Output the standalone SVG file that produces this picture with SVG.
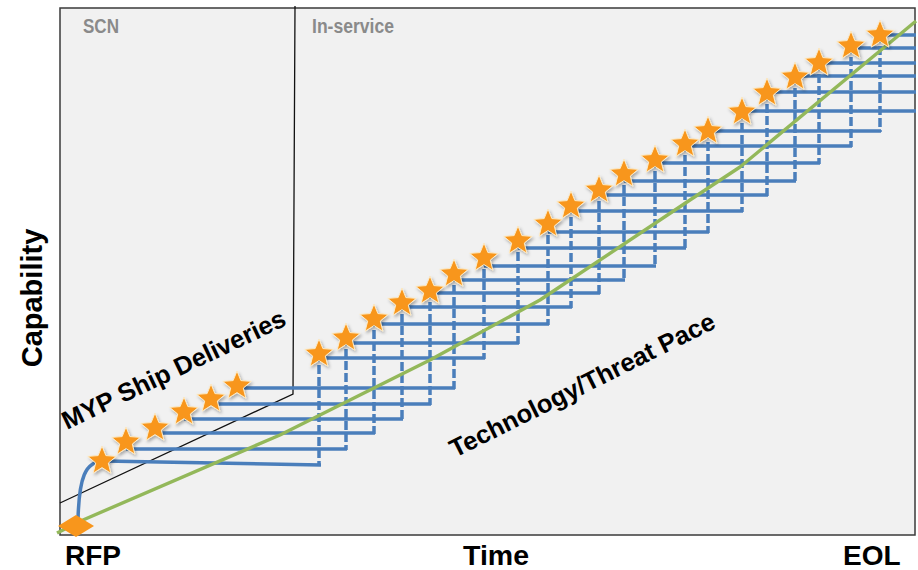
<svg xmlns="http://www.w3.org/2000/svg" width="918" height="570" viewBox="0 0 918 570">
<style>
.lbl{font-family:"Liberation Sans",Arial,sans-serif;font-weight:bold;fill:#000}
.reg{font-family:"Liberation Sans",Arial,sans-serif;font-weight:bold;fill:#8a8a8a;font-size:20px}
.h{fill:none;stroke:#4a7ebb;stroke-width:3.5}
.v{fill:none;stroke:#4a7ebb;stroke-width:3.5;stroke-dasharray:9 3}
.grn{fill:none;stroke:#93b85a;stroke-width:3.4;stroke-linejoin:round}
.div{fill:none;stroke:#111;stroke-width:1.3}
</style>
<defs>
<filter id="sh" x="-30%" y="-30%" width="170%" height="170%">
<feDropShadow dx="1.5" dy="2" stdDeviation="1.4" flood-color="#000" flood-opacity="0.3"/>
</filter>
<path id="st" d="M0,-15 L3.9,-5.4 L14.27,-4.64 L6.3,2.05 L8.82,12.14 L0,6.6 L-8.82,12.14 L-6.3,2.05 L-14.27,-4.64 L-3.9,-5.4 Z" fill="#f8961c" stroke="#fdebc6" stroke-width="1" filter="url(#sh)"/>
</defs>
<rect width="918" height="570" fill="#fff"/>
<g id="frame">
<rect x="60" y="8" width="855" height="527" fill="#f1f1f1" stroke="#3a3a3a" stroke-width="1.5"/>
</g>
<g id="scn-region">
<polyline class="div" points="295,6 293,394 60,503"/>
<text class="reg" x="83" y="33" textLength="36" lengthAdjust="spacingAndGlyphs">SCN</text>
<text class="reg" x="312" y="33" textLength="82" lengthAdjust="spacingAndGlyphs">In-service</text>
</g>
<g id="connectors">
<path class="h" d="M78,520 C79,478 85,461 104,461 L321,465"/>
<path class="h" d="M126,449H347M155,433H375M184,419H403M211,404H431M237,388H455M319,358H485M346,343H519M374,324H549M402,307H572M430,293H600M454,280H625M484,266H656M518,248H686M548,232H709M571,211H743M599,195H768M624,181H796M655,163H820M685,146H852M708,131H881M742,111H916M767,92H916M795,76H916M819,63H916M851,48H916M880,35H916"/>
<path class="v" d="M319,353V466M346,337V450M374,318V434M402,302V420M430,290V405M454,273V389M484,257V359M518,240V344M548,223V325M571,205V308M599,189V294M624,173V281M655,159V267M685,143V249M708,130V233M742,111V212M767,92V196M795,76V182M819,62V164M851,45V147M880,34V132"/>
<path id="tech-pace" class="grn" d="M57,533 L83,520 L280,435 L340,405 L430,360 L540,300 L690,200 L740,167 L916,21"/>
</g>
<g id="rfp-diamond">
<polygon points="58,526 76,515 94,526 76,537" fill="#f8961c"/>
</g>
<g id="stars">
<g id="star-0"><use href="#st" x="102" y="461"/></g>
<g id="star-1"><use href="#st" x="126" y="442"/></g>
<g id="star-2"><use href="#st" x="155" y="428"/></g>
<g id="star-3"><use href="#st" x="184" y="412"/></g>
<g id="star-4"><use href="#st" x="211" y="399"/></g>
<g id="star-5"><use href="#st" x="237" y="386"/></g>
<g id="star-6"><use href="#st" x="319" y="354"/></g>
<g id="star-7"><use href="#st" x="346" y="338"/></g>
<g id="star-8"><use href="#st" x="374" y="319"/></g>
<g id="star-9"><use href="#st" x="402" y="303"/></g>
<g id="star-10"><use href="#st" x="430" y="291"/></g>
<g id="star-11"><use href="#st" x="454" y="274"/></g>
<g id="star-12"><use href="#st" x="484" y="258"/></g>
<g id="star-13"><use href="#st" x="518" y="241"/></g>
<g id="star-14"><use href="#st" x="548" y="224"/></g>
<g id="star-15"><use href="#st" x="571" y="206"/></g>
<g id="star-16"><use href="#st" x="599" y="190"/></g>
<g id="star-17"><use href="#st" x="624" y="174"/></g>
<g id="star-18"><use href="#st" x="655" y="160"/></g>
<g id="star-19"><use href="#st" x="685" y="144"/></g>
<g id="star-20"><use href="#st" x="708" y="131"/></g>
<g id="star-21"><use href="#st" x="742" y="112"/></g>
<g id="star-22"><use href="#st" x="767" y="93"/></g>
<g id="star-23"><use href="#st" x="795" y="77"/></g>
<g id="star-24"><use href="#st" x="819" y="63"/></g>
<g id="star-25"><use href="#st" x="851" y="46"/></g>
<g id="star-26"><use href="#st" x="880" y="35"/></g>
</g>
<g id="labels">
<text class="lbl" font-size="25.5" transform="translate(67,430) rotate(-25.5)">MYP Ship Deliveries</text>
<text class="lbl" font-size="25.5" transform="translate(455,458) rotate(-26.5)">Technology/Threat Pace</text>
<text class="lbl" font-size="29" text-anchor="middle" transform="translate(42,298) rotate(-90)">Capability</text>
<text class="lbl" font-size="28" x="65" y="565">RFP</text>
<text class="lbl" font-size="28.5" x="463" y="565">Time</text>
<text class="lbl" font-size="28" x="843" y="565">EOL</text>
</g>
</svg>
